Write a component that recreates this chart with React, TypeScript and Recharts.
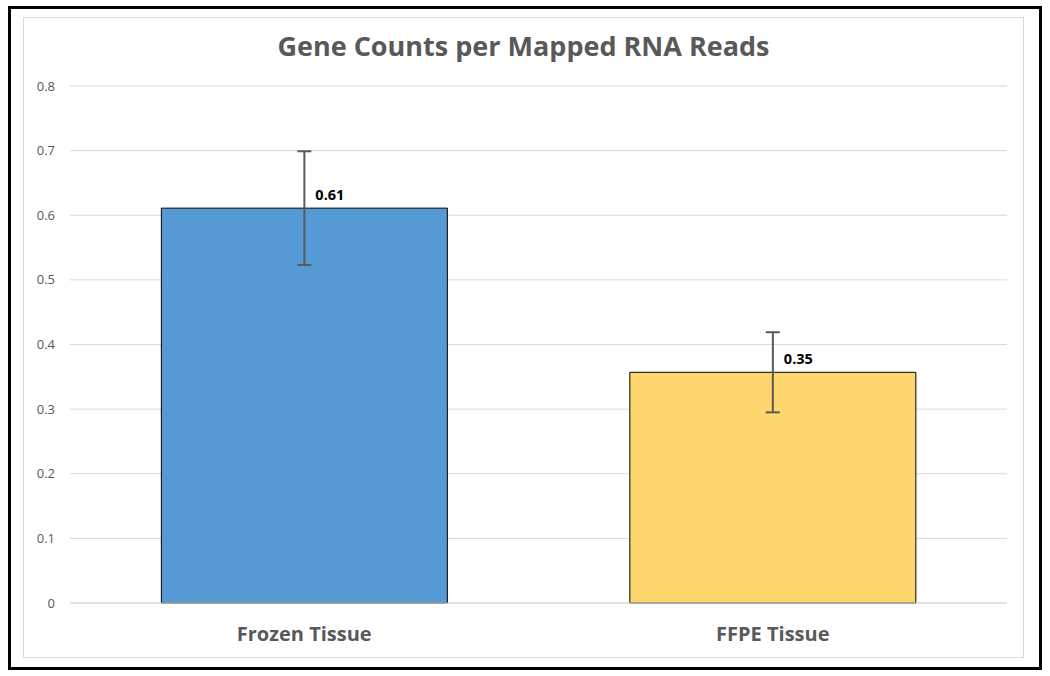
import React from 'react';
import { BarChart, Bar, XAxis, YAxis, CartesianGrid, ErrorBar, Cell, LabelList } from 'recharts';

const categories = ['Frozen Tissue', 'FFPE Tissue'];
const means = [0.611, 0.357];
const errors = [0.088, 0.062];
const valueLabels = ['0.61', '0.35'];
const colors = ['#5599d5', '#fdd76d'];
const yTicks = [0, 0.1, 0.2, 0.3, 0.4, 0.5, 0.6, 0.7, 0.8];

const data = categories.map((c, i) => ({ name: c, value: means[i], err: errors[i], label: valueLabels[i] }));

const FONT = '"Open Sans", "DejaVu Sans", sans-serif';

const renderLabel = (props: any) => {
  const { x, y, width, index } = props;
  return (
    <text x={x + width / 2 + 11} y={y - 8} fontFamily={FONT} fontSize={14.5} fontWeight={700} fill="#000">
      {valueLabels[index]}
    </text>
  );
};

export default function App() {
  return (
    <div style={{ position: 'absolute', left: 0, top: 0, width: 1050, height: 676, background: '#fff' }}>
      <div style={{ position: 'absolute', left: 8, top: 6, width: 1034, height: 664, border: '3px solid #000', boxSizing: 'border-box' }} />
      <div style={{ position: 'absolute', left: 23, top: 17, width: 1001, height: 641, border: '1px solid #d9d9d9', boxSizing: 'border-box' }} />
      <div style={{ position: 'absolute', left: 23, top: 27, width: 1001, textAlign: 'center', fontFamily: FONT, fontWeight: 700, fontSize: 27, color: '#595959' }}>
        Gene Counts per Mapped RNA Reads
      </div>
      <div style={{ position: 'absolute', left: 23, top: 17 }}>
        <BarChart width={1001} height={641} data={data} margin={{ top: 69, right: 17, bottom: 0, left: 0 }} barCategoryGap="19.5%">
          <CartesianGrid vertical={false} stroke="#d9d9d9" />
          <XAxis
            dataKey="name"
            axisLine={{ stroke: '#d9d9d9' }}
            tickLine={false}
            tickSize={6}
            tickMargin={18}
            tick={{ fontFamily: FONT, fontSize: 20, fontWeight: 700, fill: '#595959' }}
            height={55}
          />
          <YAxis
            domain={[0, 0.8]}
            ticks={yTicks}
            axisLine={false}
            tickLine={false}
            tickSize={6}
            tickMargin={9}
            width={47}
            tick={{ fontFamily: FONT, fontSize: 13, fill: '#595959' }}
          />
          <Bar dataKey="value" stroke="#000" strokeWidth={1} isAnimationActive={false}>
            {data.map((d, i) => (
              <Cell key={d.name} fill={colors[i]} />
            ))}
            <ErrorBar dataKey="err" stroke="#595959" strokeWidth={2} width={7} />
            <LabelList dataKey="label" content={renderLabel} />
          </Bar>
        </BarChart>
      </div>
    </div>
  );
}
